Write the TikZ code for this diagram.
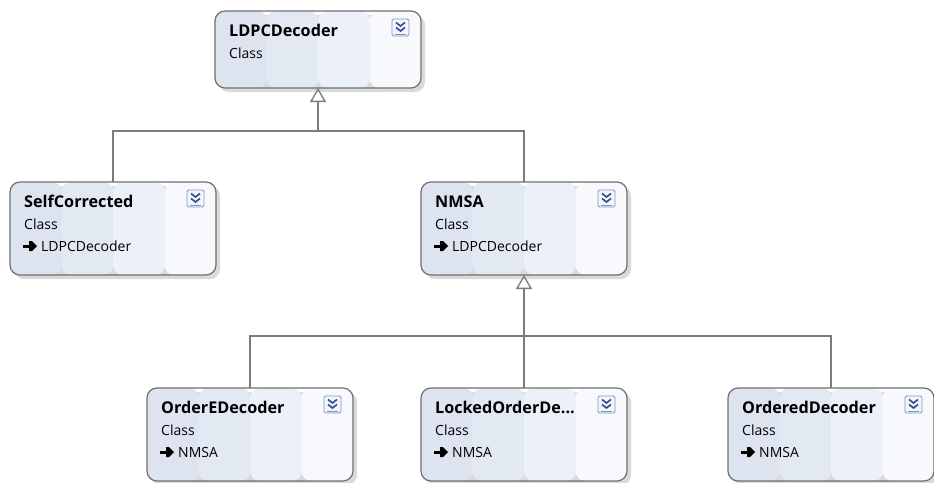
\documentclass[tikz,border=0pt]{standalone}
\usepackage{fontspec}
\setmainfont{Open Sans}
\usetikzlibrary{arrows.meta,calc}
\definecolor{bandA}{HTML}{DDE4F0}
\definecolor{bandB}{HTML}{E3E9F3}
\definecolor{bandC}{HTML}{ECF0F8}
\definecolor{bandD}{HTML}{F7F9FC}
\definecolor{boxline}{HTML}{707070}
\definecolor{connline}{HTML}{7C7C74}
\definecolor{shadowc}{HTML}{DADADA}
\definecolor{iconblue}{HTML}{2F4A8C}
\definecolor{iconframe}{HTML}{8298BE}
\definecolor{iconfill}{HTML}{F2F5FB}
\tikzset{
  classbox/.style={draw=boxline, line width=1.2pt, rounded corners=10pt,
    minimum width=206pt, inner sep=0pt, outer sep=0pt,
    path picture={
      \fill[bandA] let \p1=(path picture bounding box.south west), \p2=(path picture bounding box.north east) in
        (\x1,\y1) rectangle ({\x1+(\x2-\x1)*0.25+0.6pt},\y2);
      \fill[bandB] let \p1=(path picture bounding box.south west), \p2=(path picture bounding box.north east) in
        ({\x1+(\x2-\x1)*0.25},\y1) rectangle ({\x1+(\x2-\x1)*0.5+0.6pt},\y2);
      \fill[bandC] let \p1=(path picture bounding box.south west), \p2=(path picture bounding box.north east) in
        ({\x1+(\x2-\x1)*0.5},\y1) rectangle ({\x1+(\x2-\x1)*0.75+0.6pt},\y2);
      \fill[bandD] let \p1=(path picture bounding box.south west), \p2=(path picture bounding box.north east) in
        ({\x1+(\x2-\x1)*0.75},\y1) rectangle (\x2,\y2);
    }},
  titletext/.style={font=\bfseries\fontsize{16.2}{19}\selectfont, anchor=base west, inner sep=0pt},
  plaintext/.style={font=\fontsize{14}{17}\selectfont, anchor=base west, inner sep=0pt},
  conn/.style={draw=connline, line width=1.5pt},
  inh/.style={conn, -{Triangle[open, length=14pt, width=16pt, line width=1.3pt]}},
}
% #1 name, #2 x, #3 y, #4 height, #5 title
\newcommand{\classbox}[5]{%
  \fill[shadowc, rounded corners=10pt] (#2+4,#3+4) rectangle (#2+210,#3+#4+4);
  \node[classbox, minimum height=#4pt, anchor=north west] (#1) at (#2,#3) {};
  \node[titletext] (#1-t) at (#2+14,#3+25) {#5};
  \node[plaintext] (#1-c) at (#2+14,#3+47) {Class};
  \draw[iconframe, fill=iconfill, line width=0.8pt, rounded corners=1.5pt] (#2+177,#3+8) rectangle (#2+194,#3+25);
  \draw[iconblue, line width=1.6pt] (#2+181,#3+11.5) -- (#2+185.5,#3+15) -- (#2+190,#3+11.5);
  \draw[iconblue, line width=1.6pt] (#2+181,#3+16.5) -- (#2+185.5,#3+20) -- (#2+190,#3+16.5);
  \draw[iconblue!60, line width=0.8pt] (#2+180,#3+23) -- (#2+191,#3+23);
}
% #1 name, #2 x, #3 y, #4 parent text
\newcommand{\parentline}[4]{%
  \fill[black] (#2+13,#3+62.5) rectangle (#2+20,#3+65.5);
  \fill[black] (#2+19,#3+59) -- (#2+22,#3+59) -- (#2+27,#3+64) -- (#2+22,#3+69) -- (#2+19,#3+69) -- cycle;
  \node[plaintext] (#1-p) at (#2+31,#3+69) {#4};
}
\begin{document}
\begin{tikzpicture}[x=1pt, y=-1pt]
\useasboundingbox (0,0) rectangle (934,482);
\fill[white] (0,0) rectangle (934,482);

\classbox{ldpc}{215}{11}{77}{LDPCDecoder}
\classbox{sc}{10}{182}{93}{SelfCorrected}
\parentline{sc}{10}{182}{LDPCDecoder}
\classbox{nmsa}{421}{182}{93}{NMSA}
\parentline{nmsa}{421}{182}{LDPCDecoder}
\classbox{oe}{147}{388}{93}{OrderEDecoder}
\parentline{oe}{147}{388}{NMSA}
\classbox{lo}{421}{388}{93}{LockedOrderDe...}
\parentline{lo}{421}{388}{NMSA}
\classbox{od}{728}{388}{93}{OrderedDecoder}
\parentline{od}{728}{388}{NMSA}

\coordinate (j1) at ($(ldpc.south)+(0,43)$);
\coordinate (j2) at ($(nmsa.south)+(0,61)$);
\draw[conn] (sc.north) |- (j1);
\draw[conn] (nmsa.north) |- (j1);
\draw[inh] (j1) -- (ldpc.south);
\draw[conn] (oe.north) |- (j2);
\draw[conn] (od.north) |- (j2);
\draw[conn] (lo.north) -- (j2);
\draw[inh] (j2) -- (nmsa.south);
\end{tikzpicture}
\end{document}
